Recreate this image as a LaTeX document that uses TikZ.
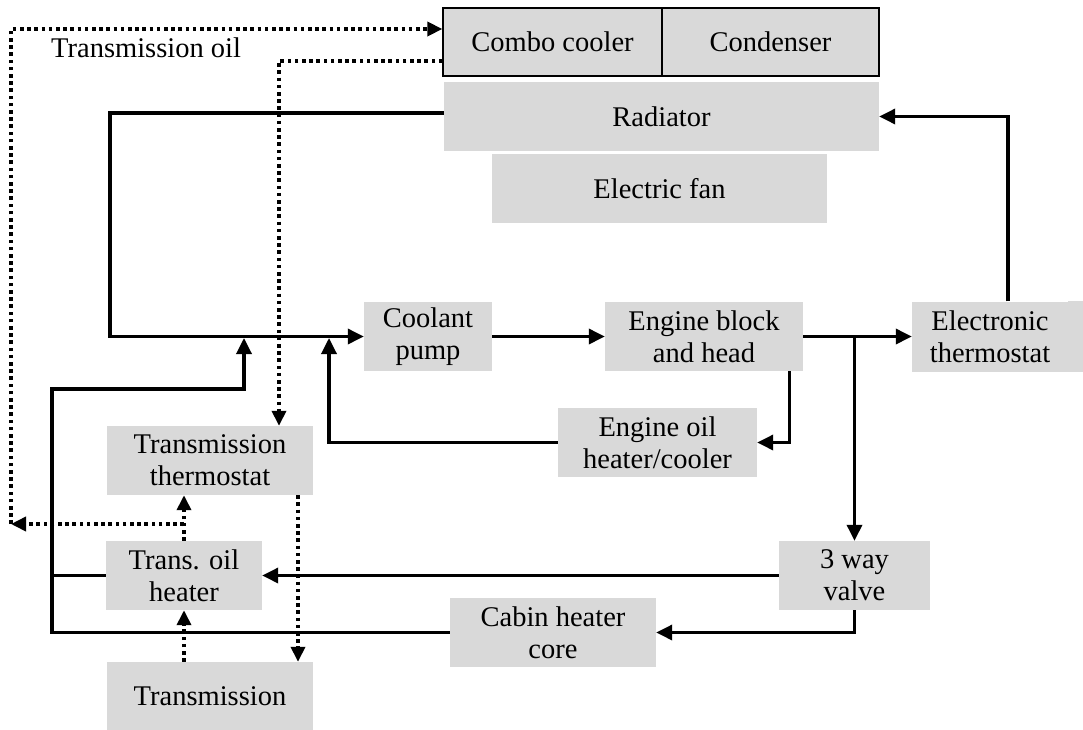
\documentclass[tikz,border=0pt]{standalone}
\usepackage{fontspec}
\setmainfont{Liberation Serif}
\usetikzlibrary{arrows.meta}
\definecolor{boxgray}{HTML}{D9D9D9}
\begin{document}
\begin{tikzpicture}[x=1pt,y=-1pt,
  every node/.style={font=\fontsize{28.5}{32}\selectfont, inner sep=0pt, align=center},
  part/.style={fill=boxgray, minimum height=69pt},
  framed/.style={part, draw=black, line width=1.3pt, minimum height=68pt},
  flow/.style={line width=3.4pt, -{Triangle[length=16pt,width=15pt]}},
  pipe/.style={line width=3.4pt},
  oilflow/.style={line width=3.6pt, dash pattern=on 3.6pt off 3.6pt, -{Triangle[length=15pt,width=14pt]}}]
\useasboundingbox (0,0) rectangle (1083,729);

% heat exchanger stack at the front of the car
\node[framed, minimum width=219pt] (combo) at (552.5,42) {Combo cooler};
\node[framed, minimum width=217pt] (cond) at (770.5,42) {Condenser};
\node[part, minimum width=435pt] (rad) at (661.5,116.5) {Radiator};
\node[part, minimum width=335pt] (fan) at (659.5,188.5) {Electric fan};

% engine coolant circuit
\node[part, minimum width=128pt] (pump) at (428,336.5) {Coolant\\pump};
\node[part, minimum width=198pt] (engine) at (704,336.5) {Engine block\\and head};
\node[part, minimum width=156pt, minimum height=70pt] (ethermo) at (990,336.5) {Electronic\\thermostat};
\fill[boxgray] (ethermo.north east) rectangle ([xshift=15pt]ethermo.south east);
\node[part, minimum width=199pt] (oil) at (657.5,442.5) {Engine oil\\heater/cooler};
\node[part, minimum width=151pt] (valve) at (854.5,575.5) {3 way\\valve};
\node[part, minimum width=206pt] (cabin) at (553,632.5) {Cabin heater\\core};

% transmission side
\node[part, minimum width=206pt] (tthermo) at (210,460.5) {Transmission\\thermostat};
\node[part, minimum width=156pt] (theater) at (184,575.5) {Trans. oil\\heater};
\node[part, minimum width=206pt, minimum height=68pt] (trans) at (210,696) {Transmission};

\node[anchor=base west] (oillabel) at (51,57) {Transmission oil};

% junction points on the pump inlet line
\coordinate (j1) at (329,338);
\coordinate (j2) at (244,338);
\coordinate (c1) at (52,389);
\coordinate (tl) at (11,524);

% coolant connectors
\draw[flow] ([yshift=3.5pt]rad.west) -- ++(-334,0) |- (pump.west);
\draw[flow] (pump.east) -- (engine.west);
\draw[flow] (engine.east) -- (ethermo.west);
\draw[flow] ([xshift=18pt]ethermo.north) |- (rad.east);
\draw[flow] (valve.north |- engine.east) -- (valve.north);
\draw[flow] ([xshift=-14pt]engine.south east) |- (oil.east);
\draw[flow] (oil.west) -| (j1);
\draw[flow] (valve.west) -- (theater.east);
\draw[flow] (valve.south) |- (cabin.east);
\draw[flow] (cabin.west) -| (c1) -| (j2);
\draw[pipe] (theater.west) -- (theater.west -| c1);

% transmission oil connectors
\draw[oilflow] ([yshift=-19pt]combo.west) -| ([xshift=69pt]tthermo.north);
\draw[oilflow] (tl) |- ([yshift=13pt]combo.west);
\draw[oilflow] (theater.north |- tl) -- (tl);
\draw[oilflow] (theater.north) -- (theater.north |- tthermo.south);
\draw[oilflow] (trans.north -| theater.north) -- (theater.south);
\draw[oilflow] ([xshift=88pt]tthermo.south) -- ([xshift=88pt]trans.north);
\end{tikzpicture}
\end{document}
